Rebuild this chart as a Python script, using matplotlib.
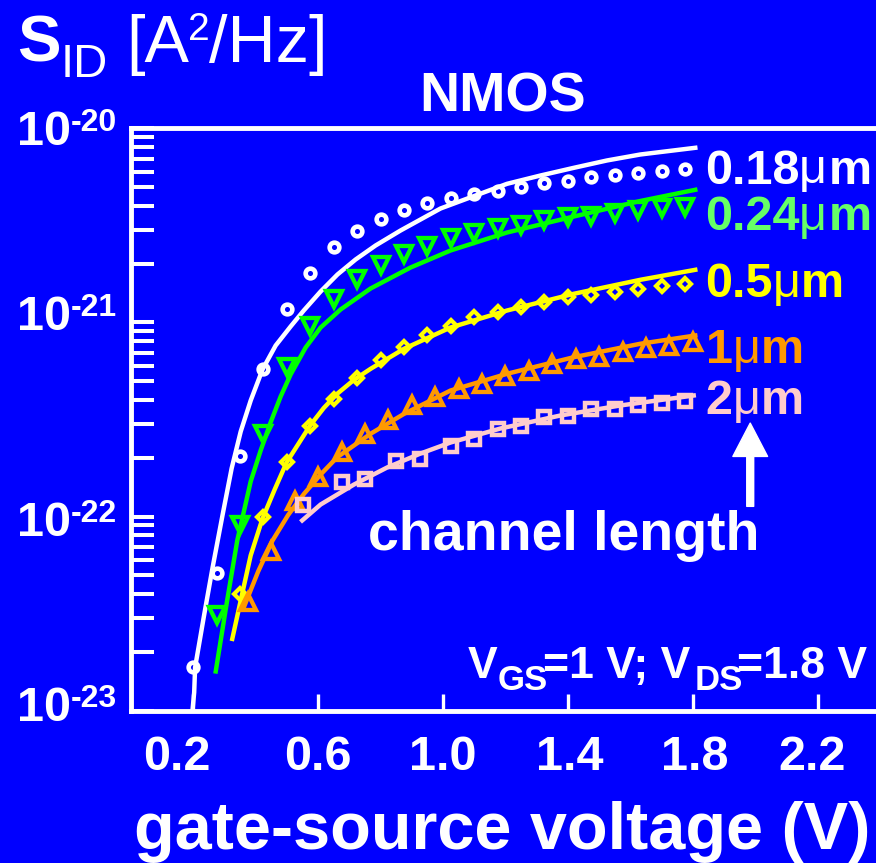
import matplotlib
matplotlib.use("Agg")
import matplotlib.pyplot as plt
import matplotlib.transforms as mtransforms
from matplotlib.ticker import LogLocator, NullFormatter, FixedLocator

plt.rcParams["font.family"] = ["Liberation Sans", "DejaVu Sans"]

BG = "#0000FF"
W, H = 876, 863

# noise values, in units of 1e-21 A^2/Hz
# 0.18 um
v_018 = [0.2, 0.275, 0.35, 0.425, 0.5, 0.575, 0.65, 0.725, 0.8, 0.875, 0.95,
         1.025, 1.1, 1.175, 1.25, 1.325, 1.4, 1.475, 1.55, 1.625, 1.7, 1.775]
s_018 = [0.0167, 0.0514, 0.206, 0.579, 1.17, 1.80, 2.44, 2.96, 3.40, 3.78, 4.12,
         4.39, 4.57, 4.79, 4.98, 5.22, 5.35, 5.61, 5.79, 5.93, 6.04, 6.17]
v_018_fit = [0.197, 0.203, 0.206, 0.234, 0.262, 0.294, 0.323, 0.352, 0.384, 0.422,
             0.464, 0.512, 0.554, 0.608, 0.662, 0.72, 0.784, 0.864, 0.992, 1.205,
             1.312, 1.419, 1.525, 1.632, 1.808]
s_018_fit = [0.00977, 0.0124, 0.0167, 0.0305, 0.0546, 0.102, 0.177, 0.274, 0.396, 0.573,
             0.761, 0.954, 1.153, 1.445, 1.768, 2.112, 2.494, 2.98, 3.869, 5.186,
             5.723, 6.271, 6.842, 7.345, 7.953]

# 0.24 um
v_024 = [0.275, 0.35, 0.425, 0.5, 0.575, 0.65, 0.725, 0.8, 0.875, 0.95, 1.025,
         1.1, 1.175, 1.25, 1.325, 1.4, 1.475, 1.55, 1.625, 1.7, 1.775]
s_024 = [0.0309, 0.0899, 0.267, 0.589, 0.954, 1.32, 1.68, 1.97, 2.26, 2.49, 2.73,
         2.88, 3.08, 3.20, 3.36, 3.49, 3.55, 3.66, 3.78, 3.90, 3.96]
v_024_fit = [0.272, 0.307, 0.341, 0.384, 0.416, 0.448, 0.48, 0.512, 0.56, 0.608,
             0.672, 0.768, 0.896, 1.024, 1.205, 1.419, 1.632, 1.808]
s_024_fit = [0.0159, 0.0356, 0.0752, 0.1515, 0.219, 0.306, 0.4155, 0.5395, 0.743, 0.942,
             1.167, 1.497, 1.92, 2.35, 2.91, 3.519, 4.23, 4.831]

# 0.5 um
v_05 = [0.35, 0.425, 0.5, 0.575, 0.65, 0.725, 0.8, 0.875, 0.95, 1.025,
        1.1, 1.175, 1.25, 1.325, 1.4, 1.475, 1.55, 1.625, 1.7, 1.775]
s_05 = [0.040, 0.0992, 0.191, 0.294, 0.404, 0.516, 0.637, 0.746, 0.867, 0.954,
        1.065, 1.13, 1.20, 1.27, 1.35, 1.394, 1.433, 1.489, 1.542, 1.575]
v_05_fit = [0.325, 0.352, 0.384, 0.422, 0.461, 0.499, 0.574, 0.618, 0.661, 0.714,
            0.768, 0.875, 1.024, 1.205, 1.419, 1.632, 1.808]
s_05_fit = [0.0234, 0.0369, 0.063, 0.0977, 0.138, 0.190, 0.294, 0.3625, 0.429, 0.505,
            0.577, 0.732, 0.942, 1.153, 1.406, 1.66, 1.869]

# 1 um
v_1 = [0.375, 0.45, 0.525, 0.6, 0.675, 0.75, 0.825, 0.9, 0.975, 1.05,
       1.125, 1.2, 1.275, 1.35, 1.425, 1.5, 1.575, 1.65, 1.725, 1.8]
s_1 = [0.0362, 0.0661, 0.1195, 0.159, 0.2145, 0.267, 0.316, 0.3735, 0.412, 0.455,
       0.483, 0.533, 0.561, 0.6125, 0.650, 0.6625, 0.703, 0.741, 0.761, 0.792]
v_1_fit = [0.362, 0.408, 0.454, 0.504, 0.555, 0.608, 0.661, 0.768, 0.875, 1.024,
           1.205, 1.419, 1.632, 1.808]
s_1_fit = [0.0340, 0.0521, 0.0752, 0.1018, 0.131, 0.1646, 0.202, 0.267, 0.338, 0.446,
           0.544, 0.6625, 0.777, 0.857]

# 2 um
v_2 = [0.55, 0.675, 0.75, 0.85, 0.925, 1.025, 1.1, 1.175, 1.25, 1.325,
       1.4, 1.475, 1.55, 1.625, 1.7, 1.775]
s_2 = [0.114, 0.150, 0.156, 0.194, 0.199, 0.232, 0.2515, 0.282, 0.294, 0.324,
       0.328, 0.359, 0.360, 0.3756, 0.383, 0.395]
v_2_fit = [0.549, 0.608, 0.715, 0.821, 0.928, 1.024, 1.184, 1.376, 1.568, 1.803]
s_2_fit = [0.0954, 0.1153, 0.1462, 0.1789, 0.2112, 0.2406, 0.2842, 0.3316, 0.3735, 0.4204]

x_ticks = [0.2, 0.6, 1.0, 1.4, 1.8, 2.2]
x_ticklabels = ["0.2", "0.6", "1.0", "1.4", "1.8", "2.2"]
decades = [-20, -21, -22, -23]

series = [
    (v_018, s_018, v_018_fit, s_018_fit, "#FFFFFF", "o", 7.0, 3.3),
    (v_024, s_024, v_024_fit, s_024_fit, "#00FF00", "v", 12.0, 3.1),
    (v_05, s_05, v_05_fit, s_05_fit, "#FFFF00", "D", 6.3, 3.0),
    (v_1, s_1, v_1_fit, s_1_fit, "#FF9900", "^", 12.0, 3.1),
    (v_2, s_2, v_2_fit, s_2_fit, "#FFCCCC", "s", 9.0, 3.2),
]


def fx(x):
    return x / W


def fy(y):
    return 1 - y / H


fig = plt.figure(figsize=(W / 100, H / 100), dpi=100, facecolor=BG)
ax = fig.add_axes([fx(130.8), fy(710.5), (880.1 - 130.8) / W, (710.5 - 128.5) / H])
ax.set_facecolor(BG)

for v, s, vf, sf, col, mk, ms, mew in series:
    ax.plot(vf, [x * 1e-21 for x in sf], color=col, lw=3.2, zorder=2,
            solid_joinstyle="round")
    ax.plot(v, [x * 1e-21 for x in s], ls="none", marker=mk, ms=ms, mew=mew,
            mec=col, mfc="none", zorder=3)

ax.set_yscale("log")
ax.set_xlim(0, 2.4)
ax.set_ylim(1e-23, 1e-20)

ax.yaxis.set_major_locator(LogLocator(base=10, numticks=10))
ax.yaxis.set_minor_locator(LogLocator(base=10, subs=(2, 3, 4, 5, 6, 7, 8, 9), numticks=20))
ax.yaxis.set_major_formatter(NullFormatter())
ax.yaxis.set_minor_formatter(NullFormatter())
ax.xaxis.set_major_locator(FixedLocator(x_ticks))
ax.xaxis.set_major_formatter(NullFormatter())

ax.tick_params(axis="y", which="both", direction="in", length=16.5, width=2.9,
               color="white", left=True, right=False)
ax.tick_params(axis="x", which="both", direction="in", length=12.5, width=2.4,
               color="white", bottom=True, top=False)
ax.tick_params(axis="x", which="minor", bottom=False)

for side in ["left", "top", "bottom"]:
    ax.spines[side].set_color("white")
    ax.spines[side].set_linewidth(3.5)
ax.spines["right"].set_visible(False)

bold = dict(color="white", fontweight="bold")

# y tick labels 10^-n (hyphen style exponent as in the original)
ytrans = mtransforms.blended_transform_factory(fig.transFigure, ax.transData)
ylab_shift = [17, 8, 19, 10]
for e, d in zip(decades, ylab_shift):
    off = mtransforms.ScaledTranslation(0, -d / 100, fig.dpi_scale_trans)
    ax.text(fx(17), 10.0 ** e, "10", transform=ytrans + off, fontsize=35,
            ha="left", va="baseline", **bold)
    off2 = mtransforms.ScaledTranslation(0, -(d - 14) / 100, fig.dpi_scale_trans)
    ax.text(fx(71), 10.0 ** e, str(e), transform=ytrans + off2, fontsize=23,
            ha="left", va="baseline", **bold)

# x tick labels
xtrans = mtransforms.blended_transform_factory(ax.transData, ax.transAxes)
xlab_shift = [-16, 0, 0, 2, 2, -6]
for v, lab, d in zip(x_ticks, x_ticklabels, xlab_shift):
    off = mtransforms.ScaledTranslation(d / 100, -59.5 / 100, fig.dpi_scale_trans)
    ax.text(v, 0, lab, transform=xtrans + off, fontsize=35, ha="center",
            va="baseline", **bold)

ax.set_xlabel("gate-source voltage (V)", fontsize=48, **bold)
ax.xaxis.set_label_coords(0.4954, -0.238)
ax.xaxis.label.set_va("baseline")

ax.set_title("NMOS", fontsize=40, x=0.496, y=1.0284, pad=0, **bold)

# y axis title S_ID [A^2/Hz]
fig.text(fx(17), fy(62), "S", fontsize=47, ha="left", va="baseline", **bold)
fig.text(fx(61), fy(77), "ID", fontsize=34, color="white", ha="left", va="baseline")
fig.text(fx(126), fy(62), "[A", fontsize=48, color="white", ha="left", va="baseline")
fig.text(fx(188), fy(40), "2", fontsize=28, color="white", ha="left", va="baseline")
fig.text(fx(209), fy(62), "/Hz]", fontsize=48, color="white", ha="left", va="baseline")

# curve labels: number, mu, m
curve_labels = [
    ("0.18", "#FFFFFF", 183.5, 705, 799, 829),
    ("0.24", "#66FF66", 230, 705, 799, 829),
    ("0.5", "#FFFF00", 296.7, 705, 773, 801),
    ("1", "#FF9900", 363.3, 706, 733, 761),
    ("2", "#FFCCCC", 414, 705, 733, 761),
]
for txt, col, base, x0, x1, x2 in curve_labels:
    fig.text(fx(x0), fy(base), txt, fontsize=35, color=col, fontweight="bold",
             ha="left", va="baseline")
    fig.text(fx(x1), fy(base), "\u03bc", fontsize=35, color=col,
             ha="left", va="baseline")
    fig.text(fx(x2), fy(base), "m", fontsize=35, color=col, fontweight="bold",
             ha="left", va="baseline")

fig.text(fx(368), fy(550), "channel length", fontsize=40, ha="left", va="baseline", **bold)
ax.annotate("", xy=(1.984, 3.03e-22), xytext=(1.984, 1.128e-22),
            arrowprops=dict(color="white", width=5, headwidth=25, headlength=24, shrink=0))

# bias conditions
fig.text(fx(468), fy(678.3), "V", fontsize=32, ha="left", va="baseline", **bold)
fig.text(fx(497.3), fy(690), "GS", fontsize=25, ha="left", va="baseline", **bold)
fig.text(fx(543.3), fy(678.3), "=1 V; V", fontsize=32, ha="left", va="baseline", **bold)
fig.text(fx(695), fy(690), "DS", fontsize=25, ha="left", va="baseline", **bold)
fig.text(fx(736.7), fy(678.3), "=1.8 V", fontsize=32, ha="left", va="baseline", **bold)

fig.savefig("out.png", dpi=100, facecolor=BG)
